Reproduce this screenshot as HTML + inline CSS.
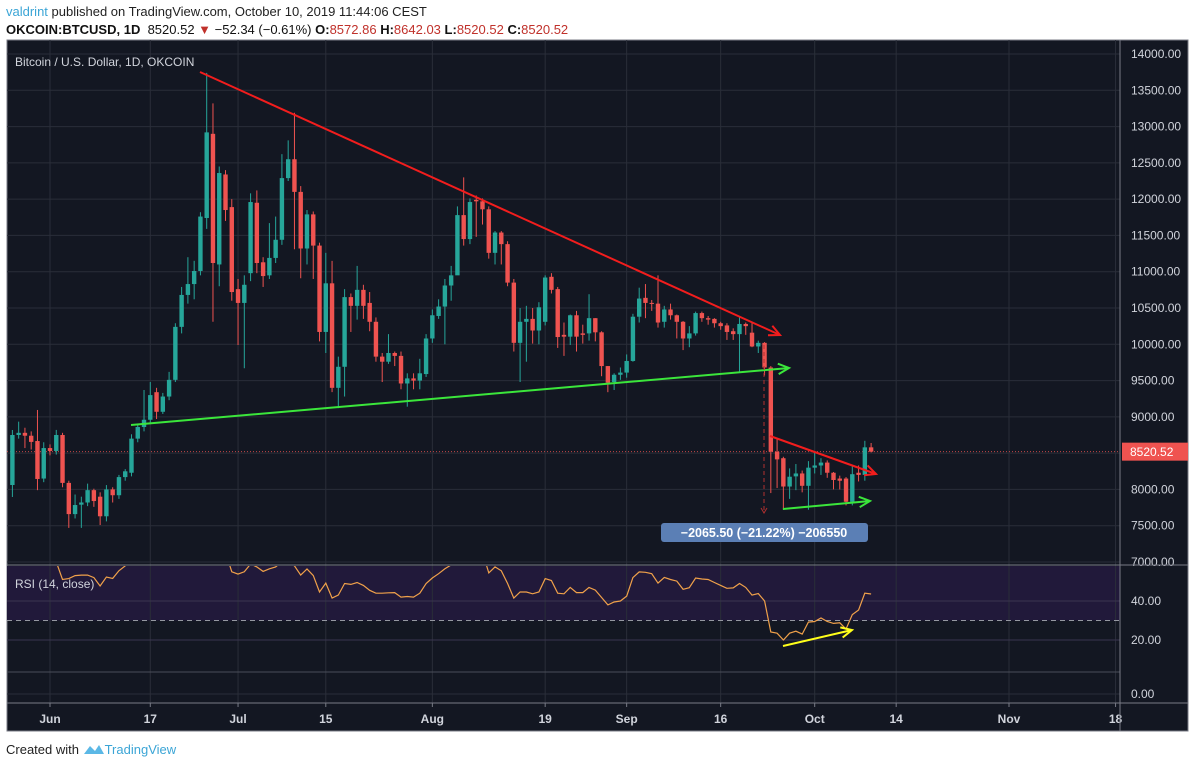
<!DOCTYPE html>
<html><head><meta charset="utf-8">
<style>
body{margin:0;width:1194px;height:768px;background:#fff;font-family:"Liberation Sans",sans-serif;overflow:hidden;position:relative}
.h1{position:absolute;left:6px;top:4px;font-size:13px;color:#222}
.h2{position:absolute;left:6px;top:22px;font-size:13px;color:#111}
.red{color:#c0312b}
#foot{position:absolute;left:6px;top:742px;font-size:13px;color:#222}
</style></head><body>
<div class="h1"><span style="color:#3ba5d6">valdrint</span> published on TradingView.com, October 10, 2019 11:44:06 CEST</div>
<div class="h2"><b>OKCOIN:BTCUSD, 1D</b>&nbsp; 8520.52 <span class="red">▼</span> −52.34 (−0.61%) <b>O:</b><span class="red">8572.86</span> <b>H:</b><span class="red">8642.03</span> <b>L:</b><span class="red">8520.52</span> <b>C:</b><span class="red">8520.52</span></div>
<svg id="chart" width="1194" height="768" style="position:absolute;left:0;top:0" xmlns="http://www.w3.org/2000/svg"></svg>
<div id="foot">Created with <span style="color:#3ba5d6"><svg width="22" height="12" viewBox="0 0 22 12" style="vertical-align:-1px"><path d="M1 11 L7 3 L12 8 L16 2 L21 11 Z" fill="#5bb8e6"/></svg>TradingView</span></div>
<script>
const opens=[8061,8750,8780,8740,8667,8150,8570,8530,8750,8090,7660,7790,7820,7990,7900,7630,8000,7920,8170,8230,8700,8860,8960,9340,9070,9280,9510,10240,10680,10830,11010,11740,12900,11100,12340,11890,10760,10570,10980,11950,11130,10950,11190,11440,12290,12550,12100,11320,11790,11360,10170,10840,9400,9690,10650,10530,10750,10570,10310,9830,9760,9880,9840,9460,9530,9500,9590,10080,10390,10520,10810,10950,11780,11450,11990,11970,11860,11260,11540,11380,10850,10020,10310,10350,10190,10310,10930,10760,10130,10105,10400,10150,10150,10360,10165,9700,9480,9580,9610,9770,10380,10640,10570,10560,10310,10480,10400,10310,10080,10150,10430,10360,10350,10290,10260,10180,10140,10280,10160,9970,10020,9680,8520,8430,8040,8180,8220,8050,8300,8330,8370,8230,8150,8150,7830,8230,8200,8580];
const highs=[8819,8934,8850,8800,9095,8650,8620,8820,8780,8120,7930,7900,8080,8010,7960,8060,8030,8200,8280,8760,8890,9370,9480,9400,9330,9620,10290,10790,11200,11150,11820,13740,13320,12450,12400,12000,10900,10950,12080,12120,11200,11670,11760,12620,12810,13190,12180,11850,11830,11400,11260,11150,9830,10760,10700,11080,10820,10720,10370,9880,10140,9900,9900,9600,9600,9800,10140,10480,10620,10900,11080,11900,12300,12010,12050,12010,11900,11560,11560,11420,10900,10500,10530,10500,10580,10950,10980,10790,10300,10410,10460,10270,10690,10360,10180,9700,9600,9680,9860,10420,10780,10830,10610,10950,10530,10560,10410,10320,10250,10450,10450,10390,10360,10310,10290,10220,10370,10300,10310,10050,10030,9700,8700,8450,8290,8350,8260,8390,8530,8430,8400,8240,8190,8170,8320,8330,8670,8640];
const lows=[7896,8700,8570,8550,7990,8100,8470,8480,8030,7470,7600,7470,7770,7760,7510,7560,7820,7870,8120,8180,8650,8800,8900,8970,9040,9230,9480,10150,10560,10620,10950,11590,10310,10800,11700,10600,9990,9670,10870,10980,10790,10900,11120,11370,12250,11310,10910,11100,10900,10040,9880,9340,9120,9280,10170,10340,10350,10180,9760,9480,9730,9700,9380,9140,9380,9380,9550,10020,10350,10000,10600,10960,11360,11380,11480,11650,11180,11100,11100,10800,9900,9480,9760,10010,10000,10260,10700,9950,9840,9990,9900,10010,10050,10040,9560,9340,9370,9510,9540,9760,10300,10360,10460,10230,10230,10340,10080,9920,9960,10120,10310,10270,10230,10200,10060,10060,9620,10130,9960,9880,9570,7950,8020,7720,7870,7990,7960,7720,8220,8200,8160,8000,8000,7780,7780,8110,8120,8510];
const closes=[8750,8780,8740,8655,8144,8570,8530,8750,8090,7660,7785,7820,7990,7840,7630,8000,7920,8170,8250,8700,8860,8960,9300,9070,9280,9510,10240,10680,10830,11010,11760,12920,11120,12360,11850,10720,10570,10820,11960,11120,10940,11190,11440,12290,12550,12100,11320,11790,11360,10170,10840,9400,9690,10650,10530,10750,10530,10310,9830,9760,9880,9840,9460,9530,9500,9600,10080,10400,10520,10810,10950,11780,11450,11960,11970,11860,11260,11540,11380,10850,10020,10310,10350,10190,10510,10920,10750,10100,10105,10400,10105,10130,10360,10165,9700,9470,9580,9610,9770,10380,10630,10570,10560,10300,10480,10400,10310,10080,10150,10430,10360,10340,10290,10250,10170,10140,10280,10250,9970,10020,9680,8520,8414,8040,8175,8220,8050,8300,8330,8370,8230,8130,8120,7830,8210,8200,8580,8520];
const rsiValues=[62,62,62,62,62,62,62,60,51,51.5,53,53.3,53.3,52,47.7,52.3,51.6,55.5,58,65,65,65,65,65,65,65,65,65,65,65,65,65,65,65,65,55,53.8,55,59,57.5,55.2,56.5,57.5,60,60,58,53.3,56.4,53,44.6,49.2,41.5,43,49,48.5,49.5,48,45.5,44,44,44.2,44.3,42,42.3,42,44,49,51.8,54,56.5,58.5,65,65,65,65,65,54.4,57.5,55.5,49,41.5,44.6,44.6,43.7,44.6,51.5,50.5,44,43.7,47,44.3,44.3,47,45.6,41.8,38,39.5,40,42.5,52,54.9,54.7,54,49.2,52.1,51,50.2,46,46.8,51.8,51.3,51,49.5,48,46.5,46.7,49,47,43,43.8,40,24.1,23.5,20,23.5,24.5,23,29.2,29.5,31.3,29.5,28.5,28.8,25.6,33,35.4,44,43.6];
const priceTicks=[7000,7500,8000,8500,9000,9500,10000,10500,11000,11500,12000,12500,13000,13500,14000];
const dateLabels=["Jun","17","Jul","15","Aug","19","Sep","16","Oct","14","Nov","18"];
const dateLabelDays=[0,16,30,44,61,79,92,107,122,135,153,170];
const rsiTicks=[40,20];
const lastPrice=8520.52;
const firstCandleDay=-6;

const svg=document.getElementById('chart');
const NS='http://www.w3.org/2000/svg';
function mk(tag,attrs,parent){const e=document.createElementNS(NS,tag);for(const k in attrs)e.setAttribute(k,attrs[k]);(parent||svg).appendChild(e);return e;}
const L=7,R=1120,T=40,PB=563,RT=566,RB=703,B=731;
const yP=p=>54+(14000-p)*(508/7000);
const xD=d=>50+6.268*d;
const xI=i=>xD(i+firstCandleDay);
const yR=v=>601-(v-40)*1.95;

let e=mk('rect',{x:L,y:T,width:1188-L,height:B-T,fill:'#131722',stroke:'#787b86','stroke-width':1});


e=mk('rect',{x:L,y:RT,width:R-L,height:yR(30)-RT,fill:'#21193a'});


// grids
priceTicks.forEach(p=>{
 const g=mk('line',{x1:L,x2:R,y1:yP(p),y2:yP(p),stroke:'#2a2e39','stroke-width':1});
 
 
 const t=mk('text',{x:1131,y:yP(p)+4,fill:'#d1d4dc','font-size':12});
 t.textContent=p.toFixed(2);
 
 
});
dateLabels.forEach((lb,k)=>{
 const x=xD(dateLabelDays[k]);
 const g=mk('line',{x1:x,x2:x,y1:T,y2:RB,stroke:'#2a2e39','stroke-width':1});
 
 
 mk('line',{x1:x,x2:x,y1:RB,y2:RB+4,stroke:'#787b86'});
 const t=mk('text',{x:x,y:723,fill:'#d1d4dc','font-size':12,'font-weight':'bold','text-anchor':'middle'});
 t.textContent=lb;
 
 
});
rsiTicks.forEach(v=>{
 const g=mk('line',{x1:L,x2:R,y1:yR(v),y2:yR(v),stroke:'#3a3550'});
 
 
 const t=mk('text',{x:1131,y:yR(v)+4,fill:'#d1d4dc','font-size':12});
 t.textContent=v.toFixed(2);
 
 
});
mk('line',{x1:L,x2:R,y1:672,y2:672,stroke:'#4a4e59'});
mk('line',{x1:L,x2:R,y1:694,y2:694,stroke:'#2a2e39'});
e=mk('text',{x:1131,y:698,fill:'#d1d4dc','font-size':12});e.textContent='0.00';


e=mk('line',{x1:L,x2:R,y1:yR(30),y2:yR(30),stroke:'#9598a1','stroke-dasharray':'5,4'});


mk('line',{x1:L,x2:1188,y1:RT-1,y2:RT-1,stroke:'#787b86'});
mk('line',{x1:L,x2:1188,y1:RB,y2:RB,stroke:'#787b86'});
mk('line',{x1:R,x2:R,y1:T,y2:B,stroke:'#787b86'});
// last price line
e=mk('line',{x1:L,x2:R,y1:yP(lastPrice),y2:yP(lastPrice),stroke:'#ef5350','stroke-dasharray':'1,2','stroke-opacity':0.8});


// candles
const cg=mk('g',{'clip-path':'url(#pc)'});
const cp=mk('clipPath',{id:'pc'});mk('rect',{x:L,y:T,width:R-L,height:PB-T},cp);
for(let i=0;i<closes.length;i++){
 const up=closes[i]>=opens[i],col=up?'#26a69a':'#ef5350',x=xI(i);
 const w=mk('line',{x1:x,x2:x,y1:yP(highs[i]),y2:yP(lows[i]),stroke:col,'stroke-width':1},cg);
 
 
 const yt=yP(Math.max(opens[i],closes[i])),yb=yP(Math.min(opens[i],closes[i]));
 const b=mk('rect',{x:x-2.2,y:yt,width:4.4,height:Math.max(1,yb-yt),fill:col},cg);
 
 
}
// RSI line
const rg=mk('clipPath',{id:'rc'});mk('rect',{x:L,y:RT,width:R-L,height:RB-RT},rg);
const pts=rsiValues.map((v,i)=>xI(i).toFixed(1)+','+yR(v).toFixed(1)).join(' ');
e=mk('polyline',{points:pts,fill:'none',stroke:'#f0a14a','stroke-width':1.2,'clip-path':'url(#rc)'});


// drawings
function arrowLine(x1,y1,x2,y2,col,name,w){
 const g=mk('g',{});
 
 
 mk('line',{x1,y1,x2,y2,stroke:col,'stroke-width':w||2},g);
 if(name.indexOf('arrow')>=0){
  const a=Math.atan2(y2-y1,x2-x1),s=12;
  const p1=[x2-s*Math.cos(a-0.45),y2-s*Math.sin(a-0.45)],p2=[x2-s*Math.cos(a+0.45),y2-s*Math.sin(a+0.45)];
  mk('polyline',{points:`${p1} ${x2},${y2} ${p2}`,fill:'none',stroke:col,'stroke-width':w||2},g);
 }
}
arrowLine(200,72,780,335,'#f21d1d','resistance-arrow');
arrowLine(131,425,789,368,'#3be63b','support-arrow');
arrowLine(770,436,876,474,'#f21d1d','small-resistance-arrow');
arrowLine(783,509,870,501,'#3be63b','small-support-arrow');
arrowLine(783,646,852,630,'#ffff1a','rsi-divergence-arrow');
e=mk('line',{x1:764,x2:764,y1:345,y2:512,stroke:'#b03030','stroke-dasharray':'4,3'});


mk('polyline',{points:'761,508 764,513 767,508',fill:'none',stroke:'#b03030'});
e=mk('rect',{x:661,y:523,width:207,height:19,rx:3,fill:'#5b7fb5'});


e=mk('text',{x:764,y:537,fill:'#fff','font-size':12.5,'font-weight':'bold','text-anchor':'middle'});
e.textContent='−2065.50 (−21.22%) −206550';
// price badge
e=mk('rect',{x:1122,y:yP(lastPrice)-9,width:66,height:18,fill:'#ef5350'});


e=mk('text',{x:1130,y:yP(lastPrice)+4.5,fill:'#fff','font-size':12});e.textContent=lastPrice.toFixed(2);
// titles
e=mk('text',{x:15,y:66,fill:'#d1d4dc','font-size':12});e.textContent='Bitcoin / U.S. Dollar, 1D, OKCOIN';


e=mk('text',{x:15,y:588,fill:'#d1d4dc','font-size':12});e.textContent='RSI (14, close)';


</script>
</body></html>
